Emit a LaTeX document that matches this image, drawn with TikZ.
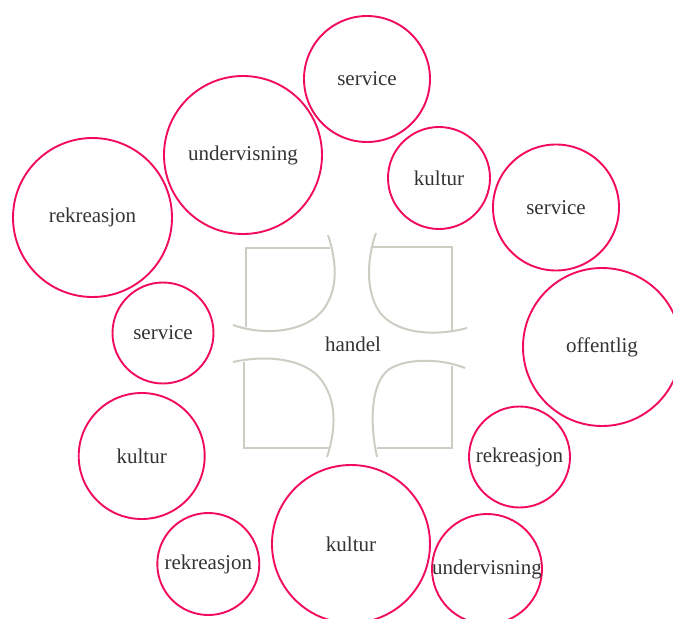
\documentclass[tikz,border=0pt]{standalone}
\usepackage{fontspec}
\setmainfont{Liberation Serif}
\usepackage{tikz}
\definecolor{bubble-red}{HTML}{F20A5E}
\definecolor{tile-gray}{HTML}{C9CFC2}
\definecolor{ink}{HTML}{333333}
\begin{document}
\begin{tikzpicture}[x=1pt,y=-1pt,
  bubble/.style={circle,draw=bubble-red,line width=1.9pt,inner sep=0pt,text=ink,font=\fontsize{21}{25}\selectfont},
  tile/.style={draw=tile-gray,line width=2pt},
  word/.style={text=ink,inner sep=0pt,font=\fontsize{21}{25}\selectfont}]
  \useasboundingbox (0,0) rectangle (673,619);
  \clip (0,0) rectangle (673,619);
  \node[bubble,minimum size=126pt] (srvtop) at (367,79) {service};
  \node[bubble,minimum size=158pt] (undtop) at (243,155) {undervisning};
  \node[bubble,minimum size=159pt] (rekleft) at (92.5,217.5) {rekreasjon};
  \node[bubble,minimum size=102pt] (kultop) at (439,178) {kultur};
  \node[bubble,minimum size=126pt] (srvright) at (556,207.5) {service};
  \node[bubble,minimum size=158pt] (offentlig) at (602,347) {offentlig};
  \node[bubble,minimum size=101pt] (srvleft) at (163,333) {service};
  \node[bubble,minimum size=126pt] (kulleft) at (141.7,456) {kultur};
  \node[bubble,minimum size=101pt] (rekright) at (519.5,457) {rekreasjon};
  \node[bubble,minimum size=102pt] (rekbot) at (208.3,564) {rekreasjon};
  \node[bubble,minimum size=158pt] (kulbot) at (351,544) {kultur};
  \node[bubble,minimum size=110pt] (undbot) at (487,569) {\makebox[0pt]{undervisning}};
  % four tiles round the centre
  \draw[tile] (330,248) -- (246,248) -- (246,327);
  \draw[tile] (328,235) .. controls (337,262) and (337,285) .. (328,302)
              .. controls (315,330) and (270,338) .. (233,325);
  \draw[tile] (372,247) -- (452,247) -- (452,331);
  \draw[tile] (376,233) .. controls (367,258) and (366,288) .. (377,308)
              .. controls (390,332) and (430,338) .. (467,328);
  \draw[tile] (244,362) -- (244,448) -- (330,448);
  \draw[tile] (233,362) .. controls (265,355) and (300,358) .. (318,376)
              .. controls (338,398) and (336,430) .. (327,457);
  \draw[tile] (452,366) -- (452,448) -- (377,448);
  \draw[tile] (465,368) .. controls (440,358) and (405,358) .. (388,370)
              .. controls (370,385) and (370,425) .. (377,457);
  \node[word] (handel) at (353,344) {handel};
\end{tikzpicture}
\end{document}
